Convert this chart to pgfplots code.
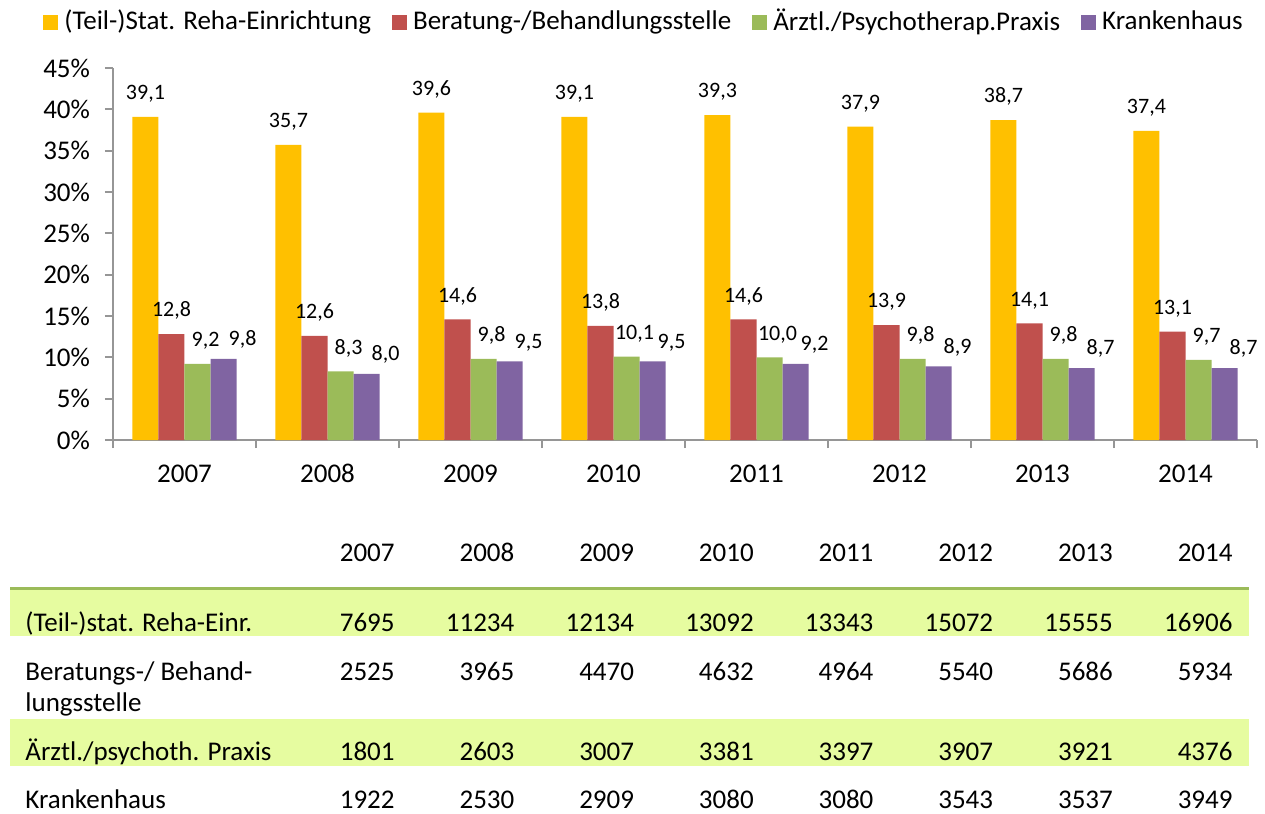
\documentclass[border=0pt]{standalone}
\usepackage{fontspec}
\setmainfont{Carlito}
\usepackage{pgfplots}
\pgfplotsset{compat=1.18}
\definecolor{cYellow}{HTML}{FFC000}
\definecolor{cRed}{HTML}{C0504D}
\definecolor{cGreen}{HTML}{9BBB59}
\definecolor{cPurple}{HTML}{8064A2}
\definecolor{axgray}{HTML}{969696}
\definecolor{stripe}{HTML}{E6FCA0}
\definecolor{tabline}{HTML}{9BBB59}

\newcommand{\fs}{\fontsize{13.5}{16}\selectfont}
\newcommand{\fl}{\fontsize{11}{13}\selectfont}
\pgfplotsset{sqleg/.style={legend image code/.code={\fill[##1] (0pt,-4.2pt) rectangle (7.5pt,3.3pt);}}}

\begin{document}
\begin{tikzpicture}[x=0.5pt,y=-0.5pt,font=\fs]
\useasboundingbox (0,0) rectangle (1265,814);

% table background
\fill[stripe] (10,590) rectangle (1249,636);
\fill[stripe] (10,719) rectangle (1249,766);
\draw[tabline, line width=1.5pt] (10,588) -- (1249,588);

\begin{axis}[
    at={(56.5pt,-220pt)}, anchor=south west,
    scale only axis,
    width=572pt, height=186pt,
    xmin=-0.5, xmax=7.5,
    ymin=0, ymax=45,
    axis lines*=left,
    axis line style={draw=axgray, line width=0.9pt},
    ybar=0pt, bar width=0.182,
    xtick={0,...,7},
    xticklabels={2007,2008,2009,2010,2011,2012,2013,2014},
    minor xtick={-0.5,0.5,...,7.5},
    major x tick style={draw=none},
    ytick={0,5,...,45},
    yticklabels={0\%,5\%,10\%,15\%,20\%,25\%,30\%,35\%,40\%,45\%},
    tick align=outside,
    major tick length=4pt, minor tick length=4pt,
    tick style={draw=axgray, line width=0.9pt},
    ticklabel style={font=\fs},
    yticklabel style={xshift=-4pt},
    xticklabel style={anchor=base, yshift=-17pt},
    nodes near coords={\pgfmathprintnumber[fixed, fixed zerofill, precision=1, use comma, assume math mode=true]{\pgfplotspointmeta}},
    every node near coord/.append style={font=\fl, text=black, inner sep=0pt, yshift=7pt},
    legend columns=4,
    legend style={at={(0.4633,1.126)}, anchor=center, draw=none, fill=none, font=\fs,
        nodes={inner sep=0pt},
        /tikz/every odd column/.append style={column sep=3pt},
        /tikz/every even column/.append style={column sep=10.5pt}},
]
\addplot[fill=cYellow, draw=none, sqleg] coordinates {
    (0,39.1) (1,35.7) (2,39.6) (3,39.1) (4,39.3) (5,37.9) (6,38.7) (7,37.4)};
\addlegendentry{(Teil-)Stat. Reha-Einrichtung}
\addplot[fill=cRed, draw=none, sqleg] coordinates {
    (0,12.8) (1,12.6) (2,14.6) (3,13.8) (4,14.6) (5,13.9) (6,14.1) (7,13.1)};
\addlegendentry{Beratung-/Behandlungsstelle}
\addplot[fill=cGreen, draw=none, sqleg, every node near coord/.append style={xshift=4pt}] coordinates {
    (0,9.2) (1,8.3) (2,9.8) (3,10.1) (4,10.0) (5,9.8) (6,9.8) (7,9.7)};
\addlegendentry{Ärztl./Psychotherap.Praxis}
\addplot[fill=cPurple, draw=none, sqleg, every node near coord/.append style={xshift=9.5pt, yshift=-2pt}] coordinates {
    (0,9.8) (1,8.0) (2,9.5) (3,9.5) (4,9.2) (5,8.9) (6,8.7) (7,8.7)};
\addlegendentry{Krankenhaus}
\end{axis}

% table text
\foreach \i/\v in {0/2007,1/2008,2/2009,3/2010,4/2011,5/2012,6/2013,7/2014}
  \node[anchor=base east, inner sep=0pt] at ({395+119.7*\i},561) {\v};
\node[anchor=base west, inner sep=0pt] at (25,631) {(Teil-)stat. Reha-Einr.};
\node[anchor=base west, inner sep=0pt] at (25,680) {Beratungs-/ Behand-};
\node[anchor=base west, inner sep=0pt] at (25,711) {lungsstelle};
\node[anchor=base west, inner sep=0pt] at (25,760) {Ärztl./psychoth. Praxis};
\node[anchor=base west, inner sep=0pt] at (25,808) {Krankenhaus};
\foreach \i/\v in {0/7695,1/11234,2/12134,3/13092,4/13343,5/15072,6/15555,7/16906}
  \node[anchor=base east, inner sep=0pt] at ({395+119.7*\i},631) {\v};
\foreach \i/\v in {0/2525,1/3965,2/4470,3/4632,4/4964,5/5540,6/5686,7/5934}
  \node[anchor=base east, inner sep=0pt] at ({395+119.7*\i},680) {\v};
\foreach \i/\v in {0/1801,1/2603,2/3007,3/3381,4/3397,5/3907,6/3921,7/4376}
  \node[anchor=base east, inner sep=0pt] at ({395+119.7*\i},760) {\v};
\foreach \i/\v in {0/1922,1/2530,2/2909,3/3080,4/3080,5/3543,6/3537,7/3949}
  \node[anchor=base east, inner sep=0pt] at ({395+119.7*\i},808) {\v};
\end{tikzpicture}
\end{document}
